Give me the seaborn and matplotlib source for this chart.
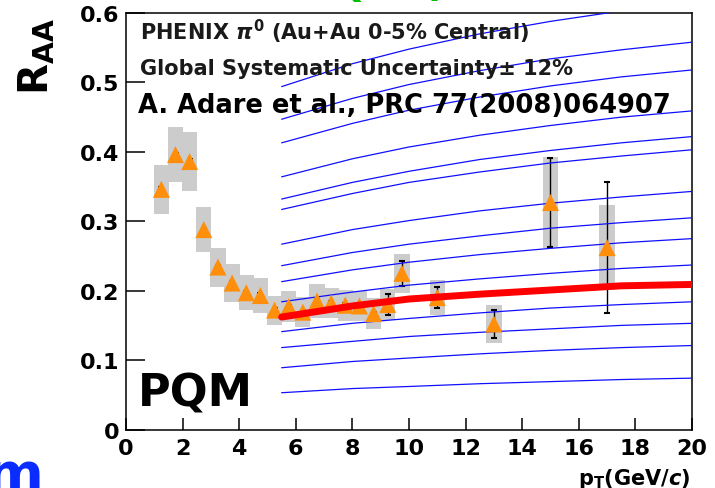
import numpy as np
import pandas as pd
import matplotlib
matplotlib.use('Agg')
import matplotlib.pyplot as plt
import seaborn as sns
from matplotlib.ticker import MultipleLocator, FixedLocator, FixedFormatter

# PHENIX pi0 RAA, Au+Au 0-5%
pt = [1.25, 1.75, 2.25, 2.75, 3.25, 3.75, 4.25, 4.75, 5.25, 5.75, 6.25, 6.75,
      7.25, 7.75, 8.25, 8.75, 9.25, 9.75, 11.0, 13.0, 15.0, 17.0]
raa = [0.346, 0.396, 0.386, 0.288, 0.234, 0.211, 0.197, 0.193, 0.172, 0.177, 0.169, 0.185,
       0.182, 0.179, 0.178, 0.167, 0.180, 0.225, 0.190, 0.152, 0.327, 0.262]
stat_err = [0.003, 0.003, 0.003, 0.003, 0.003, 0.003, 0.003, 0.003, 0.003, 0.003, 0.003, 0.003,
            0.003, 0.003, 0.003, 0.003, 0.015, 0.018, 0.015, 0.020, 0.064, 0.094]
sys_err = [0.035, 0.040, 0.043, 0.032, 0.028, 0.027, 0.025, 0.025, 0.021, 0.022, 0.022, 0.025,
           0.022, 0.022, 0.022, 0.022, 0.022, 0.028, 0.025, 0.028, 0.065, 0.061]

# PQM curves (different qhat), blue; best fit in red
curve_pt = [5.5, 8, 10, 12.5, 15, 17.5, 20]
pqm_curves = [
    [0.494, 0.527, 0.548, 0.570, 0.588, 0.603, 0.615],
    [0.447, 0.477, 0.497, 0.517, 0.534, 0.547, 0.558],
    [0.413, 0.441, 0.460, 0.479, 0.495, 0.508, 0.518],
    [0.364, 0.390, 0.407, 0.424, 0.438, 0.450, 0.459],
    [0.332, 0.356, 0.372, 0.389, 0.402, 0.413, 0.422],
    [0.317, 0.340, 0.356, 0.371, 0.384, 0.394, 0.403],
    [0.267, 0.288, 0.301, 0.315, 0.326, 0.335, 0.343],
    [0.236, 0.255, 0.267, 0.279, 0.290, 0.298, 0.305],
    [0.213, 0.230, 0.241, 0.252, 0.261, 0.269, 0.275],
    [0.184, 0.198, 0.208, 0.217, 0.225, 0.232, 0.237],
    [0.141, 0.153, 0.160, 0.168, 0.175, 0.180, 0.184],
    [0.118, 0.127, 0.134, 0.140, 0.145, 0.150, 0.153],
    [0.089, 0.098, 0.103, 0.109, 0.114, 0.118, 0.121],
    [0.053, 0.059, 0.062, 0.066, 0.069, 0.072, 0.074],
]
pqm_best = [0.162, 0.178, 0.188, 0.195, 0.201, 0.207, 0.209]

y_ticks = [0, 0.1, 0.2, 0.3, 0.4, 0.5, 0.6]
y_ticklabels = ['0', '0.1', '0.2', '0.3', '0.4', '0.5', '0.6']

sns.set_style('white')
plt.rcParams['font.family'] = ['DejaVu Sans']
plt.rcParams['font.weight'] = 'bold'
plt.rcParams['text.color'] = 'black'
plt.rcParams['xtick.color'] = 'black'
plt.rcParams['ytick.color'] = 'black'
plt.rcParams['mathtext.fontset'] = 'custom'
plt.rcParams['mathtext.rm'] = 'DejaVu Sans:bold'
plt.rcParams['mathtext.it'] = 'DejaVu Sans:bold:italic'
plt.rcParams['mathtext.bf'] = 'DejaVu Sans:bold'

fig = plt.figure(figsize=(7.15, 4.89), dpi=100)
ax = fig.add_axes([0.1762, 0.1196, 0.7916, 0.8517])

# systematic boxes
lo = np.array(raa) - np.array(sys_err)
ax.bar(pt, 2 * np.array(sys_err), bottom=lo, width=0.54, color='#cccccc', linewidth=0, zorder=1)

# model curves
rows = []
for i, c in enumerate(pqm_curves):
    for x, y in zip(curve_pt, c):
        rows.append({'pt': x, 'raa': y, 'curve': i})
df = pd.DataFrame(rows)
sns.lineplot(data=df, x='pt', y='raa', units='curve', estimator=None, color='#1010ff',
             linewidth=0.9, legend=False, ax=ax, zorder=3)

# data
ax.errorbar(pt, raa, yerr=stat_err, fmt='none', ecolor='black', elinewidth=1.0,
            capsize=2.5, capthick=1.5, zorder=2)
sns.scatterplot(x=pt, y=raa, marker='^', s=150, color='#ff8f0a', edgecolor='none',
                ax=ax, zorder=3.5)

sns.lineplot(x=curve_pt, y=pqm_best, color='#ff0000', linewidth=5, ax=ax, zorder=4)

ax.set_xlim(0, 20)
ax.set_ylim(0, 0.6)
ax.xaxis.set_major_locator(MultipleLocator(2))
ax.xaxis.set_minor_locator(MultipleLocator(0.5))
ax.yaxis.set_major_locator(FixedLocator(y_ticks))
ax.yaxis.set_major_formatter(FixedFormatter(y_ticklabels))
ax.yaxis.set_minor_locator(MultipleLocator(0.02))
ax.tick_params(axis='x', which='major', direction='in', length=9, width=1.1,
               labelsize=16, pad=6, top=False, bottom=True)
ax.tick_params(axis='x', which='minor', direction='in', length=5, width=1.1, top=False)
ax.tick_params(axis='y', which='major', direction='in', length=14, width=1.1,
               labelsize=16, pad=5, right=False, left=True)
ax.tick_params(axis='y', which='minor', direction='in', length=7, width=1.1, right=False)
for lab in ax.get_xticklabels() + ax.get_yticklabels():
    lab.set_fontweight('bold')
    lab.set_color('black')
for s in ax.spines.values():
    s.set_linewidth(1.1)
    s.set_color('black')
ax.set_xlabel('')
ax.set_ylabel('')

ax.text(0.0247, 0.936, r'PHENIX $\pi^{0}$ (Au+Au 0-5% Central)', transform=ax.transAxes,
        fontsize=15, color='#1a1a1a', ha='left', va='baseline')
ax.text(0.0247, 0.8535, 'Global Systematic Uncertainty± 12%', transform=ax.transAxes,
        fontsize=15, color='#1a1a1a', ha='left', va='baseline')
ax.text(0.0212, 0.762, 'A. Adare et al., PRC 77(2008)064907', transform=ax.transAxes,
        fontsize=18.5, color='black', ha='left', va='baseline')
ax.text(0.021, 0.057, 'PQM', transform=ax.transAxes, fontsize=32, color='black',
        ha='left', va='baseline')

fig.text(0.052, 0.963, r'R$_{\mathrm{AA}}$', rotation=90, ha='center', va='top', fontsize=29)
fig.text(0.965, 0.008, r'p$_{\mathrm{T}}$(GeV/$\mathit{c}$)', ha='right', va='baseline', fontsize=15)
fig.text(0.06, -0.006, 'm', ha='right', va='baseline', fontsize=40, color='#0a2cff')
fig.text(0.42, 1.008, 'PQM (', ha='left', va='baseline', fontsize=30, color='#00c000')

fig.savefig('out.png', dpi=100, facecolor='white')
